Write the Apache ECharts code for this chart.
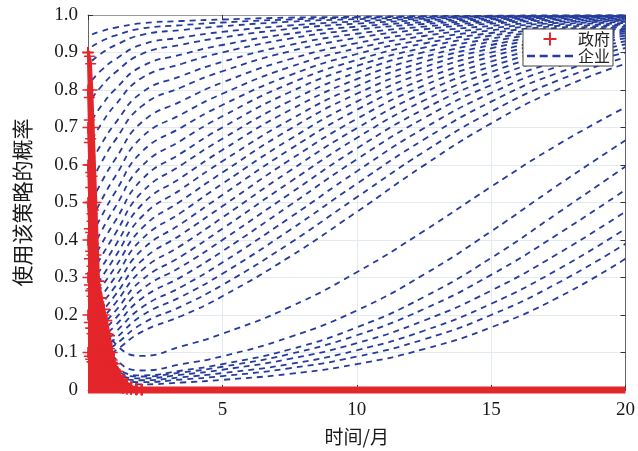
<!DOCTYPE html>
<html><head><meta charset="utf-8">
<script src="https://cdn.jsdelivr.net/npm/echarts@6/dist/echarts.min.js"></script>
<style>html,body{margin:0;padding:0;background:#fff}#c{width:638px;height:451px}</style>
</head><body><div id="c"></div>
<script>
// time axis (months) at which enterprise curves are sampled
const months = [0.15, 0.5, 1, 2, 3.5, 5, 7.5, 10, 12.5, 15, 17.5, 20];

// enterprise (企业) curves rising towards 1
const enterpriseUpper = [
  [0.069, 0.083, 0.104, 0.155, 0.198, 0.25, 0.355, 0.475, 0.599, 0.711, 0.802, 0.870],
  [0.080, 0.096, 0.120, 0.176, 0.224, 0.28, 0.391, 0.514, 0.635, 0.742, 0.826, 0.887],
  [0.091, 0.109, 0.136, 0.198, 0.25, 0.31, 0.426, 0.550, 0.668, 0.769, 0.846, 0.900],
  [0.103, 0.123, 0.153, 0.220, 0.276, 0.34, 0.459, 0.583, 0.698, 0.792, 0.863, 0.912],
  [0.116, 0.138, 0.171, 0.244, 0.303, 0.37, 0.492, 0.615, 0.725, 0.813, 0.877, 0.922],
  [0.129, 0.154, 0.189, 0.268, 0.330, 0.40, 0.523, 0.644, 0.749, 0.831, 0.890, 0.930],
  [0.144, 0.171, 0.209, 0.293, 0.358, 0.43, 0.554, 0.672, 0.772, 0.848, 0.902, 0.938],
  [0.160, 0.188, 0.230, 0.319, 0.387, 0.46, 0.584, 0.698, 0.793, 0.863, 0.912, 0.945],
  [0.177, 0.207, 0.252, 0.345, 0.416, 0.49, 0.613, 0.723, 0.812, 0.876, 0.921, 0.951],
  [0.195, 0.228, 0.275, 0.373, 0.445, 0.52, 0.641, 0.747, 0.829, 0.889, 0.930, 0.956],
  [0.214, 0.25, 0.300, 0.402, 0.475, 0.55, 0.668, 0.769, 0.846, 0.900, 0.937, 0.961],
  [0.236, 0.274, 0.326, 0.431, 0.506, 0.58, 0.695, 0.790, 0.861, 0.911, 0.944, 0.965],
  [0.259, 0.299, 0.354, 0.462, 0.537, 0.61, 0.720, 0.810, 0.875, 0.920, 0.950, 0.969],
  [0.284, 0.326, 0.383, 0.494, 0.568, 0.64, 0.746, 0.829, 0.888, 0.929, 0.956, 0.973],
  [0.312, 0.356, 0.415, 0.527, 0.601, 0.67, 0.770, 0.847, 0.901, 0.937, 0.961, 0.976],
  [0.342, 0.389, 0.449, 0.561, 0.633, 0.70, 0.794, 0.864, 0.913, 0.945, 0.966, 0.979],
  [0.376, 0.424, 0.486, 0.597, 0.667, 0.73, 0.817, 0.880, 0.924, 0.952, 0.971, 0.982],
  [0.414, 0.463, 0.526, 0.635, 0.701, 0.76, 0.839, 0.896, 0.934, 0.959, 0.975, 0.985],
  [0.456, 0.506, 0.568, 0.674, 0.736, 0.79, 0.861, 0.911, 0.944, 0.965, 0.979, 0.987],
  [0.504, 0.554, 0.614, 0.714, 0.771, 0.82, 0.882, 0.925, 0.953, 0.971, 0.982, 0.989],
  [0.558, 0.607, 0.665, 0.757, 0.808, 0.85, 0.903, 0.939, 0.962, 0.977, 0.986, 0.991],
  [0.610, 0.656, 0.710, 0.793, 0.838, 0.875, 0.920, 0.950, 0.969, 0.981, 0.988, 0.993],
  [0.668, 0.710, 0.759, 0.832, 0.870, 0.90, 0.937, 0.961, 0.976, 0.985, 0.991, 0.994],
  [0.720, 0.758, 0.801, 0.863, 0.895, 0.92, 0.950, 0.969, 0.981, 0.988, 0.993, 0.996],
  [0.778, 0.810, 0.846, 0.896, 0.921, 0.94, 0.963, 0.977, 0.986, 0.991, 0.995, 0.997],
  [0.826, 0.853, 0.881, 0.921, 0.940, 0.955, 0.972, 0.983, 0.990, 0.994, 0.996, 0.998],
  [0.878, 0.898, 0.919, 0.947, 0.960, 0.97, 0.982, 0.989, 0.993, 0.996, 0.997, 0.998],
  [0.916, 0.930, 0.945, 0.964, 0.973, 0.98, 0.988, 0.993, 0.995, 0.997, 0.998, 0.999],
  [0.948, 0.957, 0.966, 0.978, 0.984, 0.988, 0.993, 0.995, 0.997, 0.998, 0.999, 0.999]
];

// enterprise (企业) curves that dip first, then rise slowly
const enterpriseLower = [
  [0.30, 0.20, 0.125, 0.091, 0.117, 0.150, 0.221, 0.314, 0.424, 0.542, 0.655, 0.754],
  [0.26, 0.16, 0.085, 0.052, 0.069, 0.090, 0.141, 0.212, 0.308, 0.423, 0.547, 0.666],
  [0.23, 0.13, 0.065, 0.039, 0.052, 0.069, 0.108, 0.167, 0.248, 0.352, 0.473, 0.596],
  [0.20, 0.11, 0.055, 0.036, 0.047, 0.062, 0.096, 0.146, 0.216, 0.307, 0.416, 0.534],
  [0.18, 0.095, 0.047, 0.031, 0.041, 0.054, 0.083, 0.125, 0.185, 0.265, 0.364, 0.476],
  [0.16, 0.08, 0.04, 0.026, 0.034, 0.045, 0.069, 0.106, 0.158, 0.23, 0.322, 0.430],
  [0.14, 0.07, 0.033, 0.021, 0.028, 0.037, 0.058, 0.089, 0.135, 0.20, 0.286, 0.390],
  [0.12, 0.055, 0.025, 0.015, 0.020, 0.027, 0.043, 0.069, 0.109, 0.167, 0.247, 0.350]
];

// government (政府) trajectories, sampled at govTimes
const govTimes = [0, 0.05, 0.1, 0.15, 0.2, 0.3, 0.4, 0.5, 0.6, 0.7, 0.8, 0.9, 1.0, 1.1, 1.2, 1.3, 1.45, 1.6, 1.8, 2.0];
// slowest trajectory: outer edge of the red column and blob
const governmentEnvelope = [0.9, 0.89, 0.87, 0.8, 0.7, 0.5, 0.29, 0.245, 0.215, 0.185, 0.145, 0.1, 0.07, 0.05, 0.038, 0.029, 0.017, 0.009, 0.004, 0.001];
const governmentCurves = [
  [0.9, 0.72, 0.58, 0.47, 0.39, 0.29, 0.23, 0.18, 0.14, 0.105, 0.08, 0.06, 0.045, 0.033, 0.024, 0.017, 0.011, 0.007, 0.004, 0.002],
  [0.9, 0.78, 0.67, 0.57, 0.48, 0.36, 0.29, 0.245, 0.2, 0.15, 0.11, 0.08, 0.055, 0.038, 0.026, 0.017, 0.009, 0.004, 0.002, 0.001],
  [0.8, 0.66, 0.54, 0.45, 0.38, 0.28, 0.22, 0.18, 0.15, 0.12, 0.095, 0.072, 0.053, 0.038, 0.027, 0.019, 0.011, 0.006, 0.003, 0.001],
  [0.7, 0.6, 0.5, 0.43, 0.37, 0.29, 0.235, 0.19, 0.155, 0.12, 0.093, 0.07, 0.051, 0.036, 0.025, 0.017, 0.009, 0.004, 0.002, 0.001],
  [0.6, 0.5, 0.42, 0.36, 0.31, 0.24, 0.19, 0.15, 0.12, 0.095, 0.074, 0.056, 0.042, 0.031, 0.022, 0.015, 0.009, 0.005, 0.002, 0.001],
  [0.5, 0.43, 0.37, 0.33, 0.3, 0.25, 0.215, 0.185, 0.155, 0.125, 0.097, 0.073, 0.053, 0.037, 0.026, 0.017, 0.01, 0.005, 0.002, 0.001],
  [0.4, 0.35, 0.31, 0.27, 0.24, 0.2, 0.16, 0.13, 0.1, 0.08, 0.062, 0.047, 0.035, 0.026, 0.019, 0.013, 0.008, 0.004, 0.002, 0.001],
  [0.3, 0.28, 0.265, 0.25, 0.24, 0.22, 0.2, 0.18, 0.155, 0.125, 0.095, 0.07, 0.05, 0.035, 0.024, 0.016, 0.009, 0.004, 0.002, 0.001],
  [0.2, 0.18, 0.165, 0.15, 0.14, 0.12, 0.1, 0.085, 0.07, 0.057, 0.045, 0.035, 0.027, 0.02, 0.014, 0.01, 0.006, 0.003, 0.001, 0],
  [0.1, 0.09, 0.082, 0.075, 0.068, 0.056, 0.046, 0.038, 0.031, 0.025, 0.02, 0.015, 0.012, 0.009, 0.006, 0.004, 0.002, 0.001, 0, 0]
];
// government settles at 0 for the rest of the horizon
const governmentSteady = [[0, 0], [20, 0]];

const BLUE = '#263c9c';
const RED = '#e3262b';
const PLUS = 'path://M5.1,0H6.9V5.1H12V6.9H6.9V12H5.1V6.9H0V5.1H5.1Z';
const DASH = 'path://M0,0h8v2.6h-8z M12.7,0h8v2.6h-8z M25.4,0h8v2.6h-8z M38,0h8v2.6h-8z';
const NUM_FONT = 'Liberation Serif, Noto Sans CJK SC, serif';
const CJK_FONT = 'Noto Sans CJK SC, sans-serif';

const series = [];
enterpriseUpper.concat(enterpriseLower).forEach(vals => {
  series.push({
    name: '企业', type: 'line', silent: true,
    data: months.map((m, i) => [m, vals[i]]),
    symbol: 'none', showSymbol: false,
    smooth: 0.5,
    lineStyle: { color: BLUE, width: 1.8, type: [6, 5] },
    itemStyle: { color: BLUE }, z: 2
  });
});
series.push({
  name: '政府', type: 'line', silent: true, clip: false,
  data: govTimes.map((t, i) => [t, governmentEnvelope[i]]),
  symbol: PLUS, symbolSize: 11, showSymbol: true, showAllSymbol: true,
  lineStyle: { color: RED, width: 2.5 },
  areaStyle: { color: RED, opacity: 1 },
  itemStyle: { color: RED }, z: 3
});
governmentCurves.forEach(vals => {
  series.push({
    name: '政府', type: 'line', silent: true, clip: false,
    data: govTimes.map((t, i) => [t, vals[i]]),
    symbol: PLUS, symbolSize: 11, showSymbol: true, showAllSymbol: true,
    lineStyle: { color: RED, width: 2 },
    itemStyle: { color: RED }, z: 3
  });
});
series.push({
  name: '政府', type: 'line', silent: true, clip: false,
  data: governmentSteady, symbol: 'none', showSymbol: false,
  lineStyle: { color: RED, width: 7 }, itemStyle: { color: RED }, z: 3
});

const chart = echarts.init(document.getElementById('c'), null, { renderer: 'canvas' });
chart.setOption({
  animation: false,
  backgroundColor: '#fff',
  grid: { left: 88, right: 9, top: 15, bottom: 58 },
  legend: {
    data: [{ name: '政府', icon: PLUS }, { name: '企业', icon: DASH }],
    orient: 'vertical', right: 25, top: 29,
    itemWidth: 46, itemHeight: 13, itemGap: 1,
    padding: [2, 3, 2, 4],
    borderColor: '#444', borderWidth: 1, backgroundColor: '#fff',
    selectedMode: false,
    textStyle: { fontSize: 16, color: '#222', fontFamily: CJK_FONT }
  },
  xAxis: [{
    type: 'value', min: 0, max: 20, interval: 5, position: 'bottom',
    axisLine: { show: true, onZero: false, lineStyle: { color: '#666' } },
    axisTick: { show: true, inside: true, length: 5, lineStyle: { color: '#333' } },
    axisLabel: { formatter: v => (v === 0 ? '' : String(v)), margin: 11, fontSize: 19, color: '#1a1a1a', fontFamily: NUM_FONT },
    splitLine: { show: true, lineStyle: { color: '#e3eaf1' } },
    name: '时间/月', nameLocation: 'middle', nameGap: 37,
    nameTextStyle: { fontSize: 19, color: '#1a1a1a', fontFamily: CJK_FONT }
  }, {
    type: 'value', min: 0, max: 20, interval: 5, position: 'top',
    axisLine: { show: true, onZero: false, lineStyle: { color: '#999' } },
    axisTick: { show: true, inside: true, length: 5, lineStyle: { color: '#333' } },
    axisLabel: { show: false }, splitLine: { show: false }
  }],
  yAxis: [{
    type: 'value', min: 0, max: 1, interval: 0.1, position: 'left',
    axisLine: { show: true, onZero: false, lineStyle: { color: '#666' } },
    axisTick: { show: true, inside: true, length: 5, lineStyle: { color: '#333' } },
    axisLabel: { formatter: v => (v === 0 ? '0' : v.toFixed(1)), margin: 10, fontSize: 19, color: '#1a1a1a', fontFamily: NUM_FONT },
    splitLine: { show: true, lineStyle: { color: '#e3eaf1' } },
    name: '使用该策略的概率', nameLocation: 'middle', nameGap: 55,
    nameTextStyle: { fontSize: 21, color: '#1a1a1a', fontFamily: CJK_FONT }
  }, {
    type: 'value', min: 0, max: 1, interval: 0.1, position: 'right',
    axisLine: { show: true, onZero: false, lineStyle: { color: '#666' } },
    axisTick: { show: true, inside: true, length: 5, lineStyle: { color: '#333' } },
    axisLabel: { show: false }, splitLine: { show: false }
  }],
  series: series
});
</script>
</body></html>
